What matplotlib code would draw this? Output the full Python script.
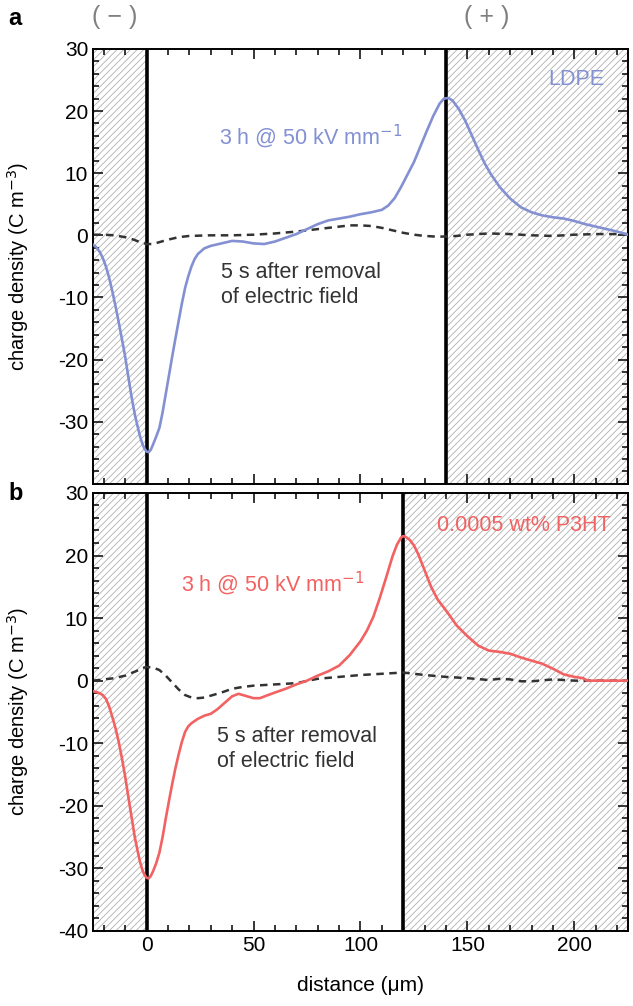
import numpy as np
import matplotlib
matplotlib.use("Agg")
import matplotlib.pyplot as plt
from matplotlib.ticker import MultipleLocator

plt.rcParams['font.family'] = ['Liberation Sans', 'DejaVu Sans']
plt.rcParams['axes.unicode_minus'] = False
plt.rcParams['hatch.linewidth'] = 0.6
plt.rcParams['hatch.color'] = '#b0b0b0'

# panel a: LDPE
x_ldpe = [-25, -23.5, -22, -20.5, -19, -17.5, -16, -14.5, -13, -11.5, -10, -8.5, -7, -5.5, -4,
          -3, -2, -1, 0, 1, 2, 3, 4.5, 6, 7.5, 9, 10.5, 12, 13.5, 15, 16.5, 18, 19.5, 21, 22.5,
          24, 27, 30, 35, 40, 45, 50, 55, 60, 65, 70, 75, 80, 85, 90, 95, 100, 105, 110, 113,
          116, 119, 122, 125, 128, 131, 134, 137, 139, 141, 143, 146, 149, 152, 155, 158, 161,
          165, 170, 175, 180, 185, 190, 195, 200, 205, 210, 215, 220, 225]
q_ldpe = [-1.5, -1.9, -2.6, -3.6, -5.0, -6.8, -9.0, -11.4, -14.0, -16.7, -19.5, -22.8, -26.0,
          -28.8, -31.0, -32.4, -33.5, -34.3, -34.8, -34.9, -34.5, -33.7, -32.4, -31.0, -28.5,
          -25.5, -22.5, -19.5, -16.6, -13.8, -11.0, -8.5, -6.6, -5.0, -3.8, -3.0, -2.1, -1.7,
          -1.3, -0.9, -1.0, -1.3, -1.4, -1.0, -0.4, 0.2, 1.0, 1.8, 2.4, 2.7, 3.0, 3.4, 3.7,
          4.1, 4.8, 6.0, 7.8, 9.8, 11.8, 14.3, 16.8, 19.2, 21.2, 22.0, 22.1, 21.7, 20.3, 18.4,
          16.1, 13.8, 11.6, 9.8, 7.8, 5.9, 4.5, 3.7, 3.2, 2.9, 2.7, 2.3, 1.8, 1.4, 1.0, 0.6,
          0.1]
x_ldpe_off = [-25, -20, -15, -10, -6, -3, 0, 3, 6, 10, 15, 20, 30, 40, 50, 60, 70, 80, 90,
              95, 100, 105, 110, 115, 120, 125, 130, 135, 140, 145, 150, 155, 160, 170, 180,
              190, 200, 210, 220, 225]
q_ldpe_off = [0.1, 0.1, 0.0, -0.3, -0.7, -1.1, -1.4, -1.4, -1.1, -0.7, -0.3, -0.1, 0.0, 0.0,
              0.1, 0.3, 0.6, 1.0, 1.4, 1.6, 1.6, 1.5, 1.2, 0.8, 0.4, 0.1, -0.1, -0.2, -0.2,
              -0.1, 0.1, 0.2, 0.3, 0.2, 0.0, -0.1, 0.1, 0.2, 0.2, 0.2]

# panel b: 0.0005 wt% P3HT
x_p3ht = [-25, -23.5, -22, -20.5, -19, -17.5, -16, -14.5, -13, -11.5, -10, -8.5, -7, -5.5, -4,
          -3, -2, -1, 0, 1, 2, 3, 4.5, 6, 7.5, 9, 10.5, 12, 13.5, 15, 16.5, 18, 19.5, 21, 24,
          27, 30, 33, 36, 40, 43, 46, 50, 53, 56, 60, 65, 70, 75, 80, 85, 90, 95, 100, 103,
          106, 109, 112, 115, 117, 119, 120, 121, 123, 125, 127, 130, 133, 136, 140, 145, 150,
          155, 160, 165, 170, 175, 180, 185, 190, 195, 200, 204, 206, 210, 215, 220, 225]
q_p3ht = [-1.7, -1.8, -2.0, -2.3, -2.9, -4.1, -5.8, -7.6, -9.8, -12.4, -15.3, -18.6, -21.8,
          -25.0, -27.5, -29.0, -30.2, -31.0, -31.5, -31.6, -31.2, -30.5, -29.2, -27.5, -25.0,
          -22.0, -19.2, -16.5, -14.0, -11.8, -9.8, -8.2, -7.3, -6.8, -6.1, -5.6, -5.3, -4.6,
          -3.7, -2.5, -2.1, -2.4, -2.8, -2.8, -2.4, -1.9, -1.3, -0.6, 0.0, 0.8, 1.5, 2.4, 4.1,
          6.3, 8.0, 10.2, 13.2, 16.5, 19.9, 21.7, 22.9, 23.1, 23.0, 22.5, 21.6, 20.2, 17.6,
          15.0, 13.0, 11.2, 8.8, 7.1, 5.6, 4.8, 4.6, 4.3, 3.7, 3.2, 2.7, 1.9, 1.0, 0.6, 0.4,
          0.0, 0.0, 0.0, 0.0, 0.0]
x_p3ht_off = [-25, -20, -15, -10, -5, -2, 0, 3, 6, 9, 12, 15, 18, 21, 24, 27, 30, 35, 40, 45,
              50, 60, 70, 80, 90, 100, 110, 120, 125, 130, 140, 150, 160, 165, 170, 175, 180,
              190, 200, 210, 220, 225]
q_p3ht_off = [0.0, 0.2, 0.4, 0.8, 1.5, 2.0, 2.2, 2.1, 1.7, 0.8, -0.3, -1.4, -2.3, -2.7, -2.8,
              -2.7, -2.4, -1.9, -1.3, -1.0, -0.8, -0.6, -0.4, 0.3, 0.6, 0.9, 1.1, 1.3, 1.1,
              0.9, 0.6, 0.4, 0.1, 0.3, 0.2, -0.1, -0.1, 0.2, 0.0, 0.0, 0.0, 0.0]

# electrode positions (cathode, anode) for each panel
electrodes_a = [0, 140]
electrodes_b = [0, 120]

blue = '#8390d2'
red = '#f26262'
dark = '#333333'

fig = plt.figure(figsize=(6.33, 10.06), dpi=100)
ax_a = fig.add_axes([0.147, 0.519, 0.845, 0.4324])
ax_b = fig.add_axes([0.147, 0.0746, 0.845, 0.4354])


def style_axis(ax, electrodes, show_x):
    ax.set_xlim(-25, 225)
    ax.set_ylim(-40, 30)
    ax.axvspan(-25, electrodes[0], facecolor='none', edgecolor='#b0b0b0', hatch='/////',
               linewidth=0, zorder=0)
    ax.axvspan(electrodes[1], 225, facecolor='none', edgecolor='#b0b0b0', hatch='/////',
               linewidth=0, zorder=0)
    for e in electrodes:
        ax.axvline(e, color='black', linewidth=2.6, zorder=1)
    ax.xaxis.set_major_locator(MultipleLocator(50))
    ax.xaxis.set_minor_locator(MultipleLocator(10))
    ax.yaxis.set_minor_locator(MultipleLocator(2))
    ax.tick_params(which='both', direction='in', top=True, right=True, width=1.1,
                   labelsize=15)
    ax.tick_params(which='major', length=7)
    ax.tick_params(which='minor', length=4)
    for sp in ax.spines.values():
        sp.set_linewidth(1.4)
    if not show_x:
        ax.tick_params(labelbottom=False)
    ax.set_ylabel('charge density (C m$^{-3}$)', fontsize=14.5)
    ax.yaxis.set_label_coords(-0.116, 0.5)


style_axis(ax_a, electrodes_a, False)
ax_a.set_yticks(np.arange(-30, 31, 10))
ax_a.plot(x_ldpe, q_ldpe, color=blue, linewidth=1.9, zorder=3)
ax_a.plot(x_ldpe_off, q_ldpe_off, color=dark, linewidth=1.8, linestyle=(0, (3, 2.2)), zorder=2)
ax_a.text(214, 25, 'LDPE', color=blue, fontsize=15.5, ha='right', va='center')
ax_a.text(34, 16, '3 h @ 50 kV mm$^{-1}$', color=blue, fontsize=15.5, ha='left', va='center')
ax_a.text(35, -8, '5 s after removal\nof electric field', color=dark, fontsize=15.5,
          ha='left', va='center', linespacing=1.25)

style_axis(ax_b, electrodes_b, True)
ax_b.set_yticks(np.arange(-40, 31, 10))
ax_b.plot(x_p3ht, q_p3ht, color=red, linewidth=1.9, zorder=3)
ax_b.plot(x_p3ht_off, q_p3ht_off, color=dark, linewidth=1.8, linestyle=(0, (3, 2.2)), zorder=2)
ax_b.text(217, 24.8, '0.0005 wt% P3HT', color=red, fontsize=15.5, ha='right', va='center')
ax_b.text(16, 15.6, '3 h @ 50 kV mm$^{-1}$', color=red, fontsize=15.5, ha='left', va='center')
ax_b.text(33, -11, '5 s after removal\nof electric field', color=dark, fontsize=15.5,
          ha='left', va='center', linespacing=1.25)
ax_b.set_xlabel('distance (μm)', fontsize=15, labelpad=15)

fig.text(0.013, 0.982, 'a', fontsize=17, fontweight='bold', ha='left', va='center')
fig.text(0.013, 0.509, 'b', fontsize=17, fontweight='bold', ha='left', va='center')
fig.text(115 / 633, 1 - 17 / 1006, '( − )', color='#808080', fontsize=18, ha='center', va='center')
fig.text(487 / 633, 1 - 17 / 1006, '( + )', color='#808080', fontsize=18, ha='center', va='center')

fig.savefig('out.png', dpi=100)
